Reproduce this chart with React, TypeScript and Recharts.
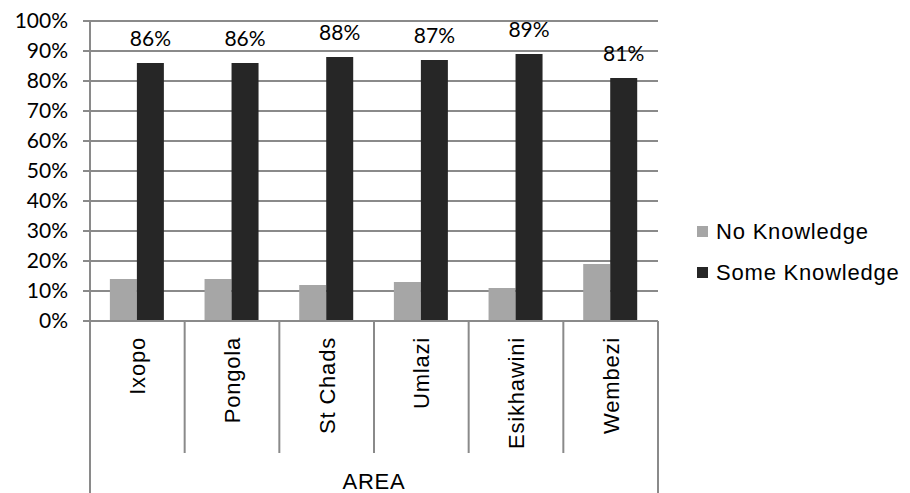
import React from "react";
import {
  Bar,
  BarChart,
  CartesianGrid,
  LabelList,
  Legend,
  XAxis,
  YAxis,
} from "recharts";

const categories = ["Ixopo", "Pongola", "St Chads", "Umlazi", "Esikhawini", "Wembezi"];
const noKnowledge = [14, 14, 12, 13, 11, 19];
const someKnowledge = [86, 86, 88, 87, 89, 81];
const yTicks = [0, 10, 20, 30, 40, 50, 60, 70, 80, 90, 100];

const seriesNames = { no: "No Knowledge", some: "Some Knowledge" };
const colors = { no: "#a6a6a6", some: "#262626" };

const GRID = "#8a8a8a";
const ARIAL = "'Liberation Sans', Arial, sans-serif";
const NUMFONT = "Lato, 'Open Sans', sans-serif";
const TEXT_SIZE = 22;
const TEXT_SPACING = 0.8;

const data = categories.map((area, i) => ({
  area,
  no: noKnowledge[i],
  some: someKnowledge[i],
}));

function AreaTick(props: any) {
  const { x, y, payload, index, visibleTicksCount } = props;
  const half = payload.offset ?? 0;
  const inner = 132;
  const outer = 172;
  const last = index === visibleTicksCount - 1;
  return (
    <g>
      <line
        x1={x - half}
        x2={x - half}
        y1={y}
        y2={y + (index === 0 ? outer : inner)}
        stroke={GRID}
        strokeWidth={2}
      />
      {last && (
        <line x1={x + half} x2={x + half} y1={y} y2={y + outer} stroke={GRID} strokeWidth={2} />
      )}
      <text
        x={x}
        y={y + 16}
        transform={`rotate(-90 ${x} ${y + 16})`}
        textAnchor="end"
        dy="0.36em"
        fontSize={TEXT_SIZE}
        fontFamily={ARIAL}
        letterSpacing={TEXT_SPACING}
        fill="#000"
      >
        {payload.value}
      </text>
    </g>
  );
}

function LegendBox() {
  const items = [
    { key: "no", label: seriesNames.no },
    { key: "some", label: seriesNames.some },
  ] as const;
  return (
    <div
      style={{
        fontFamily: ARIAL,
        fontSize: TEXT_SIZE,
        letterSpacing: TEXT_SPACING,
        color: "#000",
        whiteSpace: "nowrap",
      }}
    >
      {items.map((it) => (
        <div key={it.key} style={{ display: "flex", alignItems: "center", height: 41 }}>
          <span
            style={{
              display: "inline-block",
              width: 11,
              height: 11,
              background: colors[it.key],
              marginRight: 8,
            }}
          />
          <span>{it.label}</span>
        </div>
      ))}
    </div>
  );
}

export default function App() {
  return (
    <div style={{ position: "absolute", left: 0, top: 0, background: "#fff" }}>
      <BarChart
        width={910}
        height={493}
        data={data}
        margin={{ top: 21, right: 252, left: 0, bottom: 0 }}
        barCategoryGap="21%"
        barGap={0}
      >
        <CartesianGrid vertical={false} stroke={GRID} strokeWidth={2} />
        <XAxis
          dataKey="area"
          height={172}
          tickSize={0}
          tickMargin={0}
          tickLine={false}
          axisLine={{ stroke: GRID, strokeWidth: 2 }}
          tick={<AreaTick />}
          interval={0}
          label={{
            value: "AREA",
            position: "insideBottom",
            offset: 4,
            fontSize: TEXT_SIZE,
            fontFamily: ARIAL,
            letterSpacing: TEXT_SPACING,
            fill: "#000",
          }}
        />
        <YAxis
          width={90}
          domain={[0, 100]}
          ticks={yTicks}
          interval={0}
          tickFormatter={(v: number) => `${v}%`}
          tickSize={7}
          tickMargin={15}
          tickLine={{ stroke: GRID, strokeWidth: 2 }}
          axisLine={{ stroke: GRID, strokeWidth: 2 }}
          tick={{ fontSize: 21, fontFamily: NUMFONT, fill: "#000" }}
        />
        <Legend
          layout="vertical"
          align="center"
          verticalAlign="middle"
          content={<LegendBox />}
          wrapperStyle={{ left: 697, top: 211, width: 213 }}
        />
        <Bar dataKey="no" name={seriesNames.no} fill={colors.no} isAnimationActive={false} />
        <Bar dataKey="some" name={seriesNames.some} fill={colors.some} isAnimationActive={false}>
          <LabelList
            dataKey="some"
            position="top"
            offset={17}
            formatter={(v: number) => `${v}%`}
            style={{ fontSize: 21, fontFamily: NUMFONT, fill: "#000" }}
          />
        </Bar>
      </BarChart>
    </div>
  );
}
